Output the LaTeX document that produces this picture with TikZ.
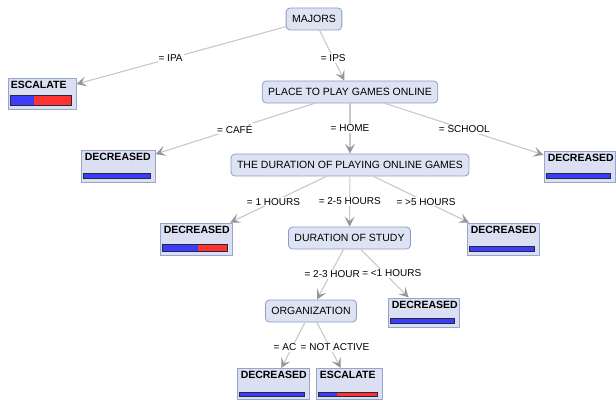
\documentclass[tikz,border=0pt]{standalone}
\usepackage{fontspec}
\setmainfont{Liberation Sans}
\usetikzlibrary{arrows.meta,calc}

\definecolor{nodefill}{RGB}{221,227,243}
\definecolor{nodeline}{RGB}{140,155,200}
\definecolor{leaffill}{RGB}{218,224,241}
\definecolor{leafline}{RGB}{150,165,205}
\definecolor{edgegray}{RGB}{200,200,200}
\definecolor{arrowgray}{RGB}{150,150,150}
\definecolor{barblue}{RGB}{60,60,255}
\definecolor{barred}{RGB}{255,50,50}
\definecolor{barline}{RGB}{40,40,60}

% bar of a leaf: node, box width, blue share, bar height
\newcommand{\leafbar}[4]{%
  \begin{scope}[shift={(#1.south west)}]
    \fill[barred] (3pt,4pt) rectangle ({#2*1pt-4pt},{4pt+#4*1pt});
    \fill[barblue] (3pt,4pt) rectangle ({3pt+#3*(#2*1pt-7pt)},{4pt+#4*1pt});
    \draw[barline, line width=0.8pt] (3pt,4pt) rectangle ({#2*1pt-4pt},{4pt+#4*1pt});
  \end{scope}}

\begin{document}
\begin{tikzpicture}[x=1pt, y=-1pt,
    inner/.style={draw=nodeline, fill=nodefill, rounded corners=4pt, line width=0.8pt,
      minimum height=22pt, inner xsep=6pt, font=\fontsize{10.5}{12}\selectfont},
    leaf/.style={draw=leafline, fill=leaffill, line width=0.9pt, inner sep=0pt},
    leaftitle/.style={anchor=north west, inner sep=1pt, font=\fontsize{10.5}{12}\selectfont\bfseries},
    edge/.style={draw=edgegray, line width=1.1pt,
      -{Stealth[length=10pt, width=10pt, inset=4.5pt, color=arrowgray]}},
    lbl/.style={fill=white, inner sep=1pt, text=black, font=\fontsize{10}{11}\selectfont}]
  \useasboundingbox (0,0) rectangle (616,401);

  % inner nodes
  \node[inner] (majors) at (314,19) {MAJORS};
  \node[inner] (place) at (350,92) {PLACE TO PLAY GAMES ONLINE};
  \node[inner] (durplay) at (350,165) {THE DURATION OF PLAYING ONLINE GAMES};
  \node[inner] (durstudy) at (349.5,238) {DURATION OF STUDY};
  \node[inner] (org) at (311,311) {ORGANIZATION};

  % leaves
  \node[leaf, minimum width=68pt, minimum height=31pt] (esc1) at (42,93.5) {};
  \node[leaftitle] at ([shift={(2pt,-2pt)}]esc1.north west) {ESCALATE};
  \leafbar{esc1}{68}{0.39}{10}

  \node[leaf, minimum width=74pt, minimum height=32pt] (deccafe) at (118,166) {};
  \node[leaftitle] at ([shift={(3pt,-2pt)}]deccafe.north west) {DECREASED};
  \leafbar{deccafe}{74}{1}{5}

  \node[leaf, minimum width=71pt, minimum height=31pt] (decschool) at (579.5,166.5) {};
  \node[leaftitle] at ([shift={(3pt,-2pt)}]decschool.north west) {DECREASED};
  \leafbar{decschool}{71}{1}{5}

  \node[leaf, minimum width=72pt, minimum height=32pt] (decone) at (196,239) {};
  \node[leaftitle] at ([shift={(3pt,-2pt)}]decone.north west) {DECREASED};
  \leafbar{decone}{72}{0.55}{7}

  \node[leaf, minimum width=72pt, minimum height=32pt] (decfive) at (503,239) {};
  \node[leaftitle] at ([shift={(3pt,-2pt)}]decfive.north west) {DECREASED};
  \leafbar{decfive}{72}{1}{5}

  \node[leaf, minimum width=71pt, minimum height=29pt] (decless) at (423.5,312.5) {};
  \node[leaftitle] at ([shift={(3pt,-2pt)}]decless.north west) {DECREASED};
  \leafbar{decless}{71}{1}{5}

  \node[leaf, minimum width=72pt, minimum height=31pt] (decac) at (273,384) {};
  \node[leaftitle] at ([shift={(3pt,-2pt)}]decac.north west) {DECREASED};
  \leafbar{decac}{72}{1}{4}

  \node[leaf, minimum width=66pt, minimum height=31pt] (esc2) at (349,384) {};
  \node[leaftitle] at ([shift={(3pt,-2pt)}]esc2.north west) {ESCALATE};
  \leafbar{esc2}{66}{0.31}{4}

  % connectors
  \draw[edge] (majors) -- node[lbl, pos=0.55] {= IPA} (esc1);
  \draw[edge] (majors) -- node[lbl, pos=0.55] {= IPS} (place);
  \draw[edge] (place) -- node[lbl] {= CAFÉ} (deccafe);
  \draw[edge] (place) -- node[lbl] {= HOME} (durplay);
  \draw[edge] (place) -- node[lbl] {= SCHOOL} (decschool);
  \draw[edge] (durplay) -- node[lbl, pos=0.55] {= 1 HOURS} (decone);
  \draw[edge] (durplay) -- node[lbl] {= 2-5 HOURS} (durstudy);
  \draw[edge] (durplay) -- node[lbl, pos=0.55] {= >5 HOURS} (decfive);
  \draw[edge] (durstudy) -- node[lbl, xshift=2pt] {= 2-3 HOUR} (org);
  \draw[edge] (durstudy) -- node[lbl, pos=0.5, xshift=7pt] {= <1 HOURS} (decless);
  \draw[edge] (org) -- node[lbl, pos=0.55, xshift=-7pt] {= AC} (decac);
  \draw[edge] (org) -- node[lbl, pos=0.55, xshift=5pt] {= NOT ACTIVE} (esc2);
\end{tikzpicture}
\end{document}
